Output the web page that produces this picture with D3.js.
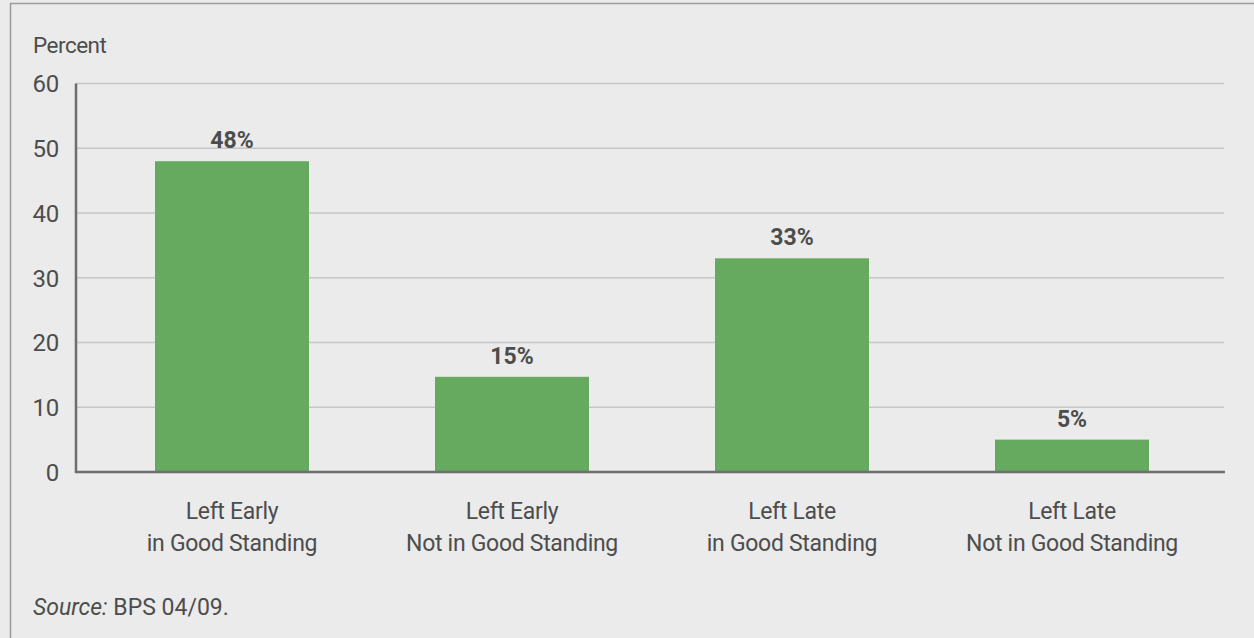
<!DOCTYPE html>
<html>
<head>
<meta charset="utf-8">
<script src="https://cdn.jsdelivr.net/npm/d3@7"></script>
<style>
  html, body { margin: 0; padding: 0; background: #ebebeb; }
  svg text { font-family: "Liberation Sans Narrow", "Arial Narrow", "Roboto", sans-serif; fill: #4d4d4d; }
</style>
</head>
<body>
<div id="chart"></div>
<script>
// data
const categories = [
  ['Left Early', 'in Good Standing'],
  ['Left Early', 'Not in Good Standing'],
  ['Left Late', 'in Good Standing'],
  ['Left Late', 'Not in Good Standing']
]
const values = [48, 14.7, 33, 5]
const valueLabels = ['48%', '15%', '33%', '5%']
const yTicks = [0, 10, 20, 30, 40, 50, 60]
const yAxisTitle = 'Percent'

const width = 1254
const height = 638
const barColor = '#66aa5f'

const svg = d3.select('#chart')
  .append('svg')
  .attr('width', width)
  .attr('height', height)

// frame
svg.append('rect')
  .attr('x', 10.5)
  .attr('y', 3.5)
  .attr('width', width + 10)
  .attr('height', height + 10)
  .attr('fill', '#ebebeb')
  .attr('stroke', '#9a9a9a')
  .attr('stroke-width', 1.5)

const plotLeft = 76
const plotRight = 1224

const xScale = d3.scaleBand()
  .domain(d3.range(categories.length))
  .range([92, 1212])
  .paddingInner(0.45)
  .paddingOuter(0.225)

const yScale = d3.scaleLinear()
  .domain([0, 60])
  .range([472, 83.5])

// gridlines
svg.append('g')
  .selectAll('line')
  .data(yTicks.filter(d => d > 0))
  .enter()
  .append('line')
  .attr('x1', plotLeft)
  .attr('x2', plotRight)
  .attr('y1', d => yScale(d))
  .attr('y2', d => yScale(d))
  .attr('stroke', '#c6c6c6')
  .attr('stroke-width', 1.3)

// y tick labels
svg.append('g')
  .selectAll('text')
  .data(yTicks)
  .enter()
  .append('text')
  .attr('x', 59)
  .attr('y', d => yScale(d))
  .attr('dy', '0.37em')
  .attr('text-anchor', 'end')
  .style('font-size', '24px')
  .style('letter-spacing', '-0.3px')
  .text(d => d)

svg.append('text')
  .attr('x', 33)
  .attr('y', 53)
  .style('font-size', '22.5px')
  .style('letter-spacing', '-0.5px')
  .text(yAxisTitle)

// bars
svg.append('g')
  .selectAll('rect')
  .data(values)
  .enter()
  .append('rect')
  .attr('x', (d, i) => xScale(i))
  .attr('width', xScale.bandwidth())
  .attr('y', d => yScale(d))
  .attr('height', d => yScale(0) - yScale(d))
  .attr('fill', barColor)

// value labels
svg.append('g')
  .selectAll('text')
  .data(values)
  .enter()
  .append('text')
  .attr('x', (d, i) => xScale(i) + xScale.bandwidth() / 2)
  .attr('y', d => yScale(d) - 13)
  .attr('text-anchor', 'middle')
  .style('font-size', '23px')
  .style('font-weight', 'bold')
  .text((d, i) => valueLabels[i])

// axes lines
svg.append('line')
  .attr('x1', plotLeft)
  .attr('x2', plotLeft)
  .attr('y1', yScale(60))
  .attr('y2', yScale(0) + 1)
  .attr('stroke', '#6e6e72')
  .attr('stroke-width', 2.5)

svg.append('line')
  .attr('x1', plotLeft - 1)
  .attr('x2', plotRight + 1)
  .attr('y1', yScale(0))
  .attr('y2', yScale(0))
  .attr('stroke', '#6e6e72')
  .attr('stroke-width', 2.5)

// category labels
const cat = svg.append('g')
  .selectAll('text')
  .data(categories)
  .enter()
  .append('text')
  .attr('x', (d, i) => xScale(i) + xScale.bandwidth() / 2)
  .attr('y', 519)
  .attr('text-anchor', 'middle')
  .style('font-size', '23px')
  .style('letter-spacing', '-0.3px')

cat.selectAll('tspan')
  .data(d => d)
  .enter()
  .append('tspan')
  .attr('x', function () { return d3.select(this.parentNode).attr('x') })
  .attr('dy', (d, i) => i === 0 ? 0 : 32)
  .text(d => d)

// source
const src = svg.append('text')
  .attr('x', 33)
  .attr('y', 615)
  .style('font-size', '23px')

src.append('tspan').style('font-style', 'italic').text('Source:')
src.append('tspan').text(' BPS 04/09.')
</script>
</body>
</html>
